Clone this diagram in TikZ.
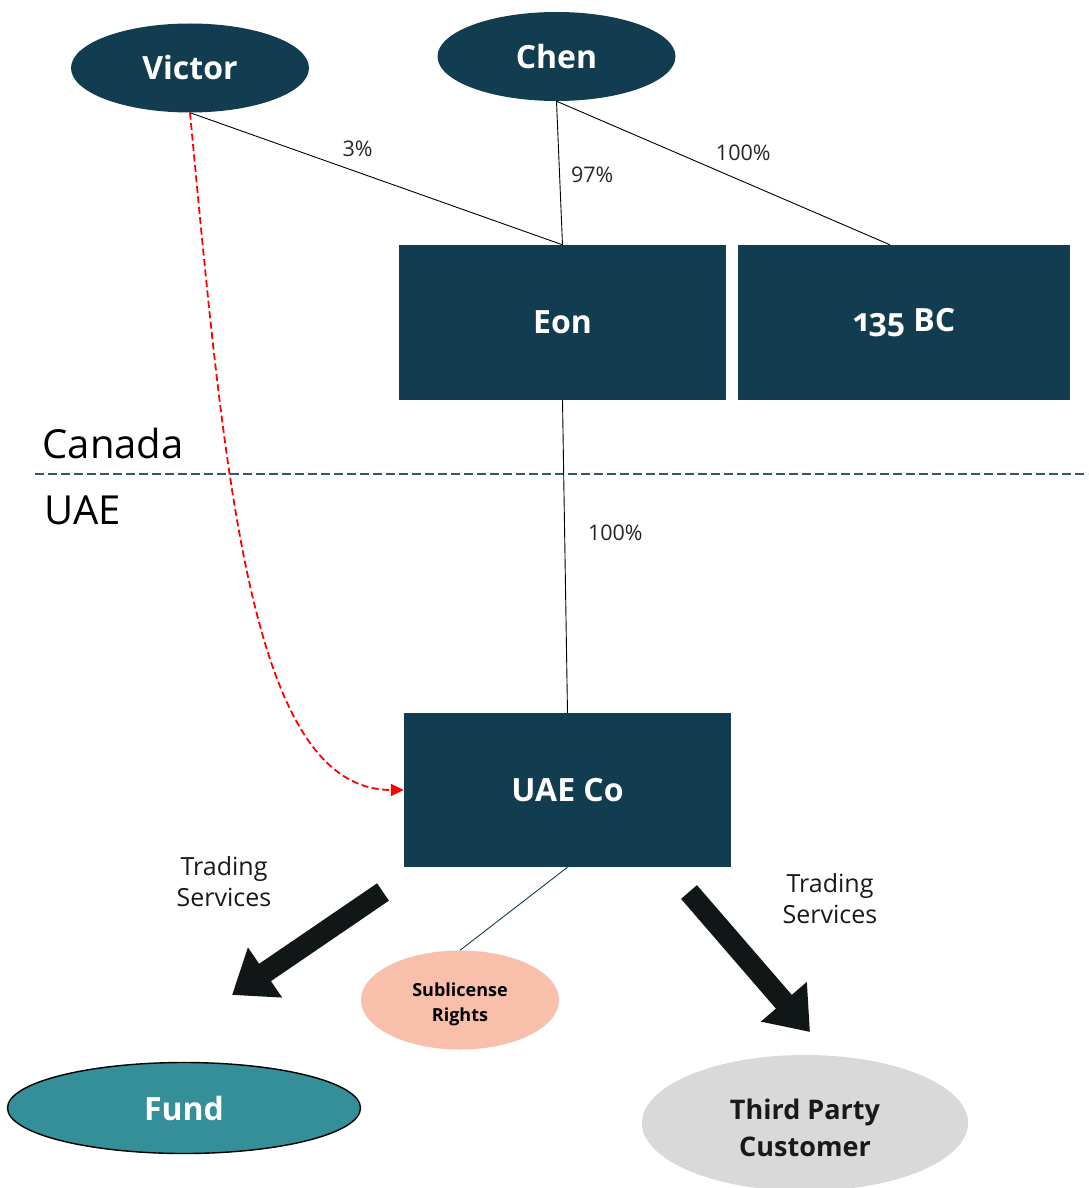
\documentclass[tikz,border=0pt]{standalone}
\usepackage{fontspec}
\setmainfont{Open Sans}
\usetikzlibrary{shapes.geometric,arrows.meta,calc}
\definecolor{navy}{HTML}{123C50}
\definecolor{teal}{HTML}{348F99}
\definecolor{salmon}{HTML}{F8BFAB}
\definecolor{lgray}{HTML}{D9D9D9}
\definecolor{ink}{HTML}{111616}
\definecolor{divider}{HTML}{2E5A6B}
\tikzset{
  person/.style={ellipse, fill=navy, inner sep=0pt, minimum width=238pt, minimum height=89pt,
    text=white, font=\fontsize{32}{36}\selectfont\bfseries},
  entity/.style={rectangle, fill=navy, inner sep=0pt, minimum height=155pt,
    text=white, font=\fontsize{32}{36}\selectfont\bfseries},
  own/.style={draw=black, line width=0.9pt},
  pct/.style={font=\fontsize{21.5}{24}\selectfont, text=black!85, inner sep=0pt},
  region/.style={font=\fontsize{40}{44}\selectfont, anchor=base west},
  svc/.style={font=\fontsize{25}{31}\selectfont, align=center, text=black!90},
  flow/.style={draw=ink, line width=21pt, -{Triangle[length=40pt,width=58pt]}},
}
\begin{document}
\begin{tikzpicture}[x=1pt,y=-1pt]
  \useasboundingbox[fill=white] (0,0) rectangle (1088,1188);

  % owners
  \node[person] (victor) at (190,68) {Victor};
  \node[person] (chen) at (556.5,56.5) {Chen};

  % Canadian companies
  \node[entity, minimum width=327pt] (eon) at (562.5,322.5) {Eon};
  \node[entity, minimum width=332pt] (bc) at (904,322.5) {\addfontfeatures{Numbers=OldStyle}135 BC};

  % jurisdiction divider
  \coordinate (divL) at (35,474);
  \coordinate (divR) at (1088,474);
  \draw[divider, line width=1.4pt, dash pattern=on 9pt off 4pt] (divL) -- (divR);
  \node[region] (canada) at (39,458) {Canada};
  \node[region] (uae) at (41,524) {UAE};

  % UAE company
  \node[entity, minimum width=327pt, minimum height=154pt] (uaeco) at (567.5,790) {UAE Co};

  % ownership lines
  \draw[own] (victor.south) -- node[pct, pos=0.45, above=15pt] {3\%} (eon.north);
  \draw[own] (chen.south) -- node[pct, pos=0.51, right=11pt] {97\%} (eon.north);
  \draw[own] (chen.south) -- node[pct, pos=0.56, above=20pt] {100\%} ($(bc.north)+(-14,0)$);
  \draw[own] (eon.south) -- node[pct, pos=0.425, right=23pt] {100\%} (uaeco.north);

  % Victor's link to UAE Co
  \draw[red, line width=1.8pt, dash pattern=on 7pt off 3.5pt, -{Triangle[length=13pt,width=12pt]}]
    (victor.south) .. controls (225,480) and (250,790) .. (uaeco.west);

  % counterparties
  \node[ellipse, fill=salmon, inner sep=0pt, minimum width=198pt, minimum height=99pt,
        label={[font=\fontsize{18}{25}\selectfont\bfseries, align=center, yshift=-4pt]center:Sublicense\\Rights}]
        (sub) at (460,1000) {};
  \node[ellipse, fill=teal, draw=black, line width=1.4pt, inner sep=0pt, minimum width=353pt, minimum height=91pt,
        text=white, font=\fontsize{32}{36}\selectfont\bfseries] (fund) at (184,1108) {Fund};
  \node[ellipse, fill=lgray, inner sep=0pt, minimum width=326pt, minimum height=136pt,
        label={[font=\fontsize{27}{37}\selectfont\bfseries, align=center, text=black!90, yshift=-5pt]center:Third Party\\Customer}]
        (tpc) at (805,1123) {};

  \draw[navy, line width=0.9pt] (uaeco.south) -- (sub.north);

  % service flows
  \coordinate (lt) at (383,892);
  \coordinate (lh) at (232,995);
  \coordinate (rt) at (689,892);
  \coordinate (rh) at (810,1032);
  \draw[flow] (lt) -- (lh);
  \draw[flow] (rt) -- (rh);
  \node[svc] (svcL) at (224,882) {Trading\\Services};
  \node[svc] (svcR) at (830,899) {Trading\\Services};
\end{tikzpicture}
\end{document}
